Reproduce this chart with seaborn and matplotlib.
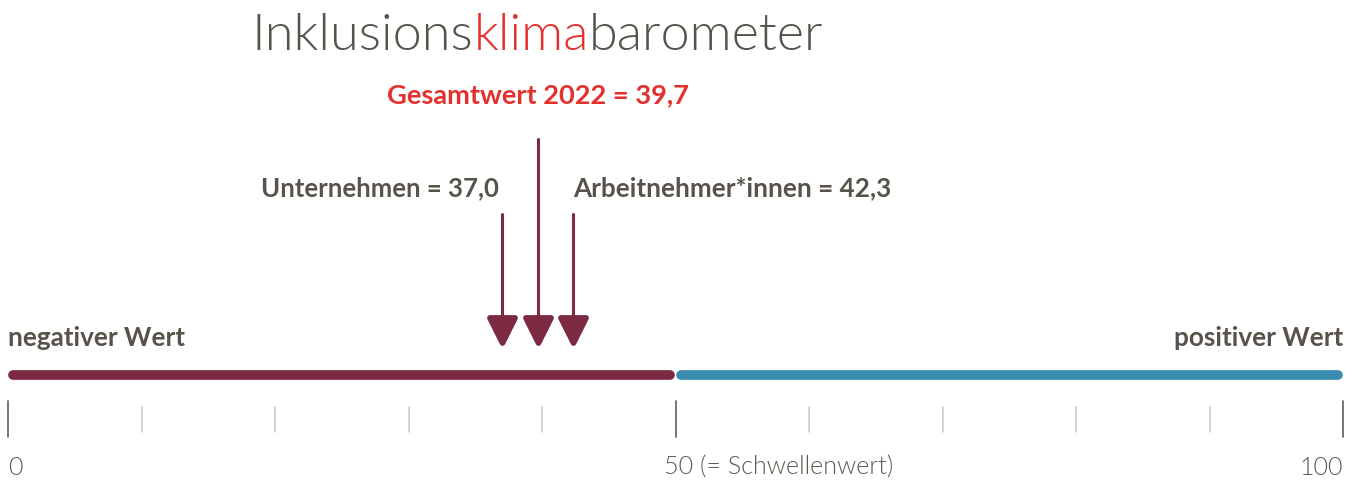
import numpy as np
import matplotlib.pyplot as plt
from matplotlib.markers import MarkerStyle
import seaborn as sns

# scale segments (value range, colour)
seg_start = [0, 50]
seg_end = [50, 100]
seg_colors = ["#7b2a42", "#3a8bb0"]

# values shown by the arrows
arrow_names = ["Unternehmen", "Gesamtwert 2022", "Arbeitnehmer*innen"]
arrow_values = [37.0, 39.7, 42.3]

major_ticks = [0, 50, 100]
minor_ticks = [10, 20, 30, 40, 60, 70, 80, 90]
tick_labels = ["0", "50 (= Schwellenwert)", "100"]

gray = "#58534a"
red = "#e3312d"
maroon = "#7b2a42"

sns.set_theme(style="white")
plt.rcParams["font.family"] = ["Lato", "DejaVu Sans"]

fig = plt.figure(figsize=(13.57, 4.85), dpi=100)
ax = fig.add_axes([0, 0, 1, 1])
px = 100 / 1335.0
ax.set_xlim(-8 * px, 100 + 14 * px)
ax.set_ylim(485, 0)
ax.axis("off")

# colour bar
for s, e, c in zip(seg_start, seg_end, seg_colors):
    sns.lineplot(x=[s + 0.4, e - 0.4], y=[376, 376], color=c, lw=7,
                 solid_capstyle="round", ax=ax)

# ticks
for t in major_ticks:
    ax.plot([t, t], [402, 438], color="#6e6a62", lw=1.3)
for t in minor_ticks:
    ax.plot([t, t], [408, 433], color="#c8c8c8", lw=1.1)

lab_kw = dict(va="center", fontsize=18.1, color="#5f5a52", fontweight=300)
ax.text(0, 468, tick_labels[0], ha="left", **lab_kw)
ax.text(50 - 12 * px, 468, tick_labels[1], ha="left", **lab_kw)
ax.text(100, 468, tick_labels[2], ha="right", **lab_kw)

ax.text(0, 338, "negativer Wert", ha="left", va="center", fontsize=18.8,
        color=gray, fontweight="bold")
ax.text(100, 338, "positiver Wert", ha="right", va="center", fontsize=18.8,
        color=gray, fontweight="bold")

# arrows
tops = [215, 140, 215]
for v, top in zip(arrow_values, tops):
    ax.plot([v, v], [top, 322], color=maroon, lw=2.2)
tri = MarkerStyle("v", joinstyle="round")
sns.scatterplot(x=arrow_values, y=[331] * 3, marker=tri, s=330, color=maroon,
                edgecolor=maroon, linewidth=4, ax=ax)

ax.text(arrow_values[0] - 0.2, 188, f"{arrow_names[0]} = 37,0", ha="right",
        va="center", fontsize=18.5, color=gray, fontweight="bold")
ax.text(arrow_values[2] + 0.05, 188, f"{arrow_names[2]} = 42,3", ha="left",
        va="center", fontsize=18.8, color=gray, fontweight="bold")
ax.text(arrow_values[1], 95, f"{arrow_names[1]} = 39,7", ha="center",
        va="center", fontsize=19.6, color=red, fontweight="bold")

# title in three coloured parts
parts = ["Inklusions", "klima", "barometer"]
pcolors = [gray, red, gray]
fig.canvas.draw()
r = fig.canvas.get_renderer()
texts = []
for p, c in zip(parts, pcolors):
    texts.append(fig.text(0, 0.925, p, fontsize=37.6, color=c, fontweight=300,
                          va="center", ha="left"))
widths = [t.get_window_extent(r).width / 1357 for t in texts]
x0 = 537.5 / 1357 - sum(widths) / 2
for t, w in zip(texts, widths):
    t.set_x(x0)
    x0 += w

fig.savefig("out.png", dpi=100)
